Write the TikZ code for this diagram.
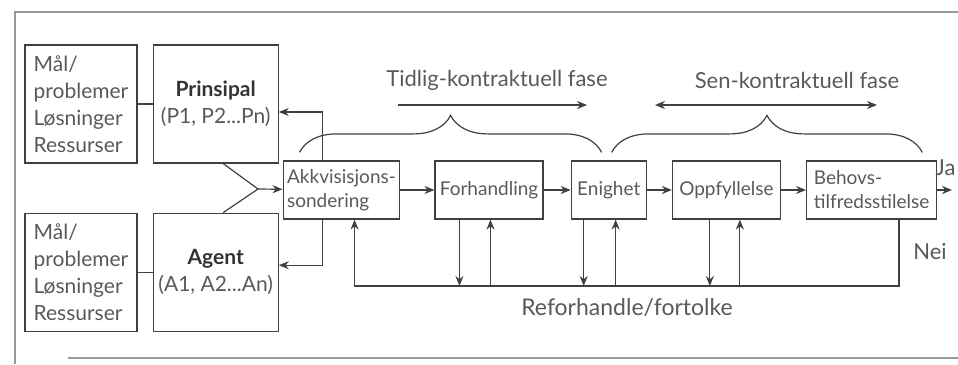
\documentclass[tikz,border=0pt]{standalone}
\usepackage{fontspec}
\setmainfont{Lato}
\usetikzlibrary{arrows.meta,positioning,decorations.pathreplacing}

\begin{document}
\begin{tikzpicture}[
    x=0.5pt, y=-0.5pt,
    line width=0.6pt, draw=black!75,
    box/.style={draw=black!75,minimum height=29pt,inner sep=2pt,text=black!65,font=\fontsize{9.5}{12}\selectfont},
    side/.style={box,minimum width=56pt,minimum height=59pt,align=left,font=\fontsize{10.5}{13.5}\selectfont},
    actor/.style={box,minimum width=62.5pt,minimum height=59pt,align=center,font=\fontsize{10.5}{13.5}\selectfont},
    label/.style={text=black!65,font=\fontsize{11}{13}\selectfont},
    >={Stealth[length=5pt,width=4pt]}]
  \useasboundingbox (0,0) rectangle (958,364);
  \draw[black!40] (958,12) -- (15,12) -- (15,364);
  \draw[black!40] (68,358) -- (958,358);

  \node[side] (mal1) at (81,104) {Mål/\\problemer\\Løsninger\\Ressurser};
  \node[actor,right=7.5pt of mal1] (prin) {\textbf{\color{black!80}Prinsipal}\\(P1, P2...Pn)};
  \node[side,below=24.5pt of mal1] (mal2) {Mål/\\problemer\\Løsninger\\Ressurser};
  \node[actor,right=7.5pt of mal2] (agent) {\textbf{\color{black!80}Agent}\\(A1, A2...An)};

  \node[box,minimum width=56.5pt,align=left] (akk) at (341.5,190) {Akkvisisjons-\\sondering};
  \node[box,minimum width=54pt,right=17pt of akk] (forh) {Forhandling};
  \node[box,minimum width=37.5pt,right=13.5pt of forh] (enig) {Enighet};
  \node[box,minimum width=54pt,right=12.5pt of enig] (oppf) {Oppfyllelse};
  \node[box,minimum width=65pt,align=left,right=12.5pt of oppf] (behov) {Behovs-\\tilfredsstilelse};

  \node[label] (early) at (497,80) {Tidlig-kontraktuell fase};
  \node[label] (late) at (797,80) {Sen-kontraktuell fase};
  \node[label,font=\fontsize{11.5}{13}\selectfont] (refo) at (627,308) {Reforhandle/fortolke};
  \node[label,anchor=west] (nei) at (906,252) {Nei};
  \node[label,anchor=east,inner sep=0.5pt] (ja) at (957,168) {Ja};

  \coordinate (join) at (258,189);
  \coordinate (base) at (0,286);
  \coordinate (out) at (952,192);

  \draw (mal1) -- (prin);
  \draw (mal2) -- (agent);
  \draw ([xshift=3.75pt]prin.south) -- (join) -- ([xshift=3.75pt]agent.north);
  \draw[->] (join) -- (akk);
  \draw[->] ([xshift=20pt]akk.north west) |- ([yshift=-4pt]prin.east);
  \draw[->] ([xshift=20pt]akk.south west) |- ([yshift=3.5pt]agent.east);

  \draw[->] (akk) -- (forh);
  \draw[->] (forh) -- (enig);
  \draw[->] (enig) -- (oppf);
  \draw[->] (oppf) -- (behov);
  \draw[->] (behov) -- (behov -| out);

  \coordinate (back) at ([xshift=36pt]akk.south west);
  \coordinate (fail) at ([xshift=46.5pt]behov.south west);
  \draw[->] (fail) -- (fail |- base) -- (back |- base) -- (back);
  \foreach \n/\d/\u in {forh/12.5/28,enig/6.5/22.5,oppf/19/34}{
    \coordinate (dn) at ([xshift=\d pt]\n.south west);
    \coordinate (up) at ([xshift=\u pt]\n.south west);
    \draw[->] (dn) -- (dn |- base);
    \draw[->] (up |- base) -- (up);
  }

  \draw[->] ([shift={(-99,25)}]early.center) -- ([shift={(90,25)}]early.center);
  \draw[<->] ([shift={(-142,25)}]late.center) -- ([shift={(80,25)}]late.center);
  \draw[decorate,decoration={brace,amplitude=18.5pt}]
    ([shift={(17,-8)}]akk.north west) -- ([shift={(31,-8)}]enig.north west);
  \draw[decorate,decoration={brace,amplitude=18.5pt}]
    ([shift={(41,-8)}]enig.north west) -- ([shift={(-15,-8)}]behov.north east);
\end{tikzpicture}
\end{document}
